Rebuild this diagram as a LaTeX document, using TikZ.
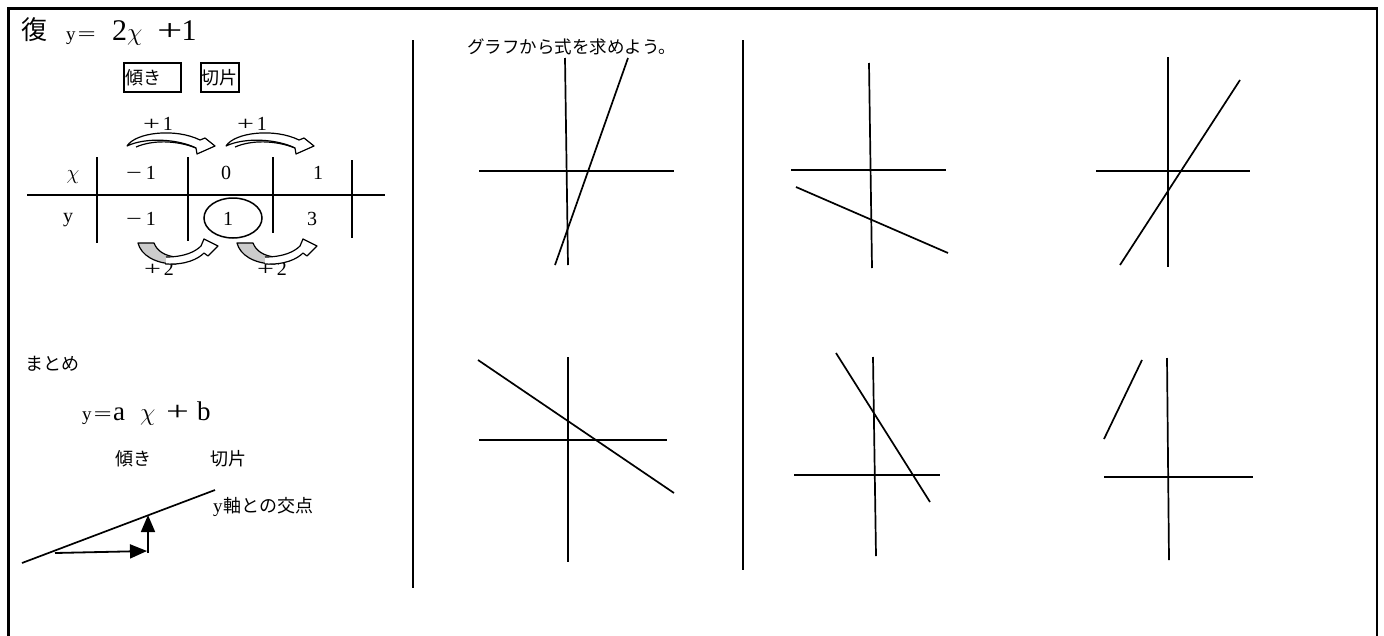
\documentclass[tikz,border=0pt]{standalone}
\usepackage{fontspec}
\usepackage{graphicx}
\setmainfont{Liberation Serif}
\newfontfamily\jp{Noto Sans CJK JP}
\usetikzlibrary{arrows.meta,shapes.geometric}
\newcommand{\wplus}{\scalebox{1.5}[1]{+}}
\newcommand{\wminus}{\scalebox{1.4}[1]{−}}
\newcommand{\weq}{\scalebox{1.7}[1]{=}}
\tikzset{
  frame/.style={line width=2.2pt},
  ln/.style={line width=1.7pt},
  tbl/.style={line width=1.7pt},
  blk/.style={line width=1.2pt, line join=round},
  jt/.style={font=\jp\fontsize{18}{20}\selectfont, inner sep=0pt},
  lt/.style={font=\fontsize{20}{22}\selectfont, inner sep=0pt},
  bxs/.style={draw, line width=1.8pt, font=\jp\fontsize{18}{20}\selectfont, minimum height=29pt, align=left, inner ysep=0pt},
  bigarrow/.style={line width=1.8pt, -{Triangle[length=17pt,width=14pt]}}
}
\begin{document}
\begin{tikzpicture}[x=1pt,y=-1pt]
\useasboundingbox (0,0) rectangle (1384,635);
% frame
\draw[frame] (8.5,640) -- (8.5,8.5) -- (1377,8.5) -- (1377,640);
% title
\node[anchor=base west, inner sep=0pt, font=\jp\fontsize{26}{26}\selectfont] (fuku) at (21,39) {復};
\node[anchor=base west, inner sep=0pt, font=\fontsize{19}{19}\selectfont] (yeq) at (66,40) {y\hspace{2pt}\weq};
\node[anchor=base west, inner sep=0pt, font=\fontsize{30}{30}\selectfont] (twox) at (112,40) {2$\chi$};
\node[anchor=base west, inner sep=0pt, font=\fontsize{30}{30}\selectfont] (pone) at (157,40) {\wplus\hspace{-1pt}1};
% boxes
\node[bxs, anchor=north west, text width=53pt, inner xsep=2pt] (kbox) at (123,62) {傾き};
\node[bxs, anchor=north west, text width=36pt, inner xsep=1pt] (sbox) at (200,62) {切片};
% table
\draw[tbl] (27,195) -- (385,195);
\draw[tbl] (97,157) -- (97,243);
\draw[tbl] (188,157) -- (188,241);
\draw[tbl] (273,157) -- (273,233);
\draw[tbl] (352,160) -- (352,238);
\node[lt] (tx) at (73,177) {$\chi$};
\node[lt] (tx1) at (141,173) {\wminus\hspace{4pt}1};
\node[lt] (tx2) at (226,173) {0};
\node[lt] (tx3) at (318,173) {1};
\node[lt] (ty) at (68,220) {y};
\node[lt] (ty1) at (141,219) {\wminus\hspace{4pt}1};
\node[lt] (ty2) at (228,219) {1};
\node[lt] (ty3) at (312,219) {3};
\node[draw, line width=1.5pt, ellipse, minimum width=58pt, minimum height=40pt, inner sep=0pt] (circ) at (233,218) {};
% +1 labels
\node[lt] (p1a) at (158,124) {\wplus\hspace{3pt}1};
\node[lt] (p1b) at (252,124) {\wplus\hspace{3pt}1};
\node[lt] (p2a) at (159,269) {\wplus\hspace{3pt}2};
\node[lt] (p2b) at (272,269) {\wplus\hspace{3pt}2};
% top curved arrows
\foreach \dx in {0,99}{
\begin{scope}[xshift=\dx pt]
\draw[blk, fill=white] (127,146) .. controls (136,132) and (176,128) .. (200,140) -- (205,138) -- (215,146) -- (197,154) -- (196,148) .. controls (178,139) and (146,137) .. (127,146) -- cycle;
\draw[blk] (136,147) .. controls (152,140) and (176,140) .. (196,148);
\end{scope}
}
% bottom curved arrows
\foreach \dx in {0,99}{
\begin{scope}[xshift=\dx pt]
\draw[blk, fill=gray!40] (138,243) -- (154,243) .. controls (157,251) and (165,256) .. (176,257) -- (176,264) .. controls (155,264) and (141,255) .. (138,243) -- cycle;
\draw[blk, fill=white] (166,264) .. controls (186,265) and (198,259) .. (204,253) -- (208,256) -- (218,246) -- (204,239) -- (201,246) .. controls (195,252) and (184,257) .. (166,257);
\end{scope}
}
% summary
\node[jt, anchor=west] (matome) at (25,364) {まとめ};
\node[anchor=base west, inner sep=0pt, font=\fontsize{19}{19}\selectfont] (yeq2) at (82,420) {y\hspace{2pt}\weq};
\node[anchor=base west, inner sep=0pt, font=\fontsize{27}{27}\selectfont] (av) at (113,420) {a};
\node[anchor=base west, inner sep=0pt, font=\fontsize{27}{27}\selectfont] (chiv) at (140,420) {$\chi$};
\node[anchor=base west, inner sep=0pt, font=\fontsize{27}{27}\selectfont] (plv) at (166,420) {\wplus};
\node[anchor=base west, inner sep=0pt, font=\fontsize{27}{27}\selectfont] (bv) at (197,420) {b};
\node[jt] (kat) at (133,459) {傾き};
\node[jt] (sep) at (228,459) {切片};
\node[anchor=west, inner sep=0pt] (kouten) at (213,507) {\fontsize{19}{19}\selectfont y\hspace{1pt}\jp\fontsize{18}{20}\selectfont 軸との交点};
\coordinate (la) at (22,563);
\coordinate (lb) at (215,490);
\draw[ln] (la) -- (lb);
\coordinate (h1) at (55,553);
\coordinate (h2) at (147,551);
\coordinate (v1) at (148,553);
\coordinate (v2) at (148,515);
\draw[bigarrow] (h1) -- (h2);
\draw[bigarrow] (v1) -- (v2);
% dividers
\draw[ln] (413,40) -- (413,588);
\draw[ln] (743,40) -- (743,570);
% caption
\node[anchor=west, inner sep=0pt, font=\jp\fontsize{17.5}{20}\selectfont] (cap) at (467,47) {グラフから式を求めよう。};
% graph 1
\draw[ln] (565,58) -- (568,265);
\draw[ln] (479,171) -- (674,171);
\draw[ln] (555,265) -- (628,58);
% graph 2
\draw[ln] (869,63) -- (872,268);
\draw[ln] (791,170) -- (946,170);
\draw[ln] (796,187) -- (948,253);
% graph 3
\draw[ln] (1168,57) -- (1168,267);
\draw[ln] (1096,171) -- (1250,171);
\draw[ln] (1120,265) -- (1240,80);
% graph 4
\draw[ln] (568,357) -- (568,562);
\draw[ln] (479,440) -- (667,440);
\draw[ln] (478,360) -- (674,493);
% graph 5
\draw[ln] (873,357) -- (876,556);
\draw[ln] (794,475) -- (940,475);
\draw[ln] (836,353) -- (930,502);
% graph 6
\draw[ln] (1167,358) -- (1169,560);
\draw[ln] (1104,477) -- (1253,477);
\draw[ln] (1104,439) -- (1142,360);
\end{tikzpicture}
\end{document}
